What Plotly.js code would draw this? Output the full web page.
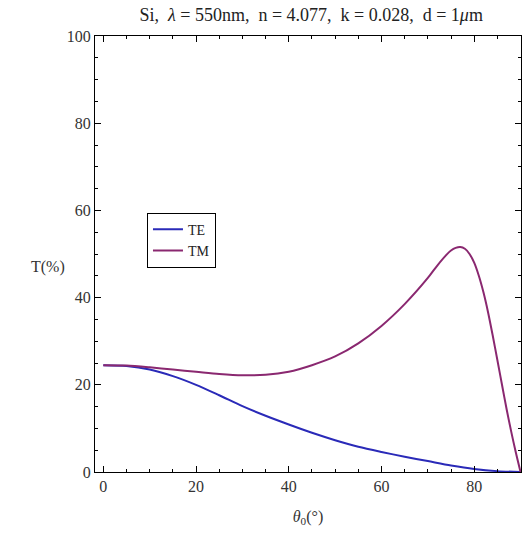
<!DOCTYPE html>
<html>
<head>
<meta charset="utf-8">
<script src="https://cdn.plot.ly/plotly-3.0.1.min.js"></script>
<style>html,body{margin:0;padding:0;background:#fff;}#chart{width:523px;height:537px;}</style>
</head>
<body>
<div id="chart"></div>
<script>
const teTheta = [0,5,10,15,20,25,30,35,40,45,50,55,60,65,70,75,80,85,90];
const teValues = [24.5,24.3,23.5,22.0,20.0,17.6,15.1,12.9,10.9,9.0,7.3,5.8,4.6,3.5,2.5,1.5,0.7,0.2,0];
const tmTheta = [0,5,10,15,20,25,30,35,40,45,50,55,60,65,70,72,74,75,76,77,78,79,80,81,82,83,84,85,86,87,88,89,90];
const tmValues = [24.5,24.4,24.0,23.5,23.0,22.5,22.2,22.3,23.0,24.5,26.5,29.5,33.5,38.5,44.5,47.3,49.8,50.8,51.4,51.6,51.2,50.0,48.0,45.0,41.2,36.6,31.3,25.7,20.0,14.4,9.2,4.4,0];
const seriesNames = ["TE","TM"];
const xTicks = [0,20,40,60,80];
const yTicks = [0,20,40,60,80,100];

const serif = "Liberation Serif, Times New Roman, serif";
const traces = [
  {x: teTheta, y: teValues, name: seriesNames[0], mode: "lines",
   line: {color: "#2a2ab8", width: 2, shape: "spline", smoothing: 0.8}},
  {x: tmTheta, y: tmValues, name: seriesNames[1], mode: "lines",
   line: {color: "#8a2870", width: 2, shape: "spline", smoothing: 0.8}}
];
const axisCommon = {
  showline: true, linecolor: "#000", linewidth: 1, mirror: "ticks",
  ticks: "inside", ticklen: 6, tickcolor: "#000", tickwidth: 1,
  showgrid: false, zeroline: false,
  tickfont: {family: serif, size: 16, color: "#333"},
  minor: {dtick: 5, ticks: "inside", ticklen: 3, tickcolor: "#000", showgrid: false}
};
const sp = "\u00a0\u00a0";
const layout = {
  width: 523, height: 537,
  margin: {l: 95, r: 2, t: 36, b: 65},
  paper_bgcolor: "#fff", plot_bgcolor: "#fff",
  font: {family: serif, color: "#222"},
  title: {text: "Si," + sp + "<i>λ</i> = 550nm," + sp + "n = 4.077," + sp + "k = 0.028," + sp + "d = 1<i>μ</i>m",
          x: 0.595, xanchor: "center", y: 0.973, yanchor: "middle",
          font: {family: serif, size: 18, color: "#222"}},
  xaxis: Object.assign({}, axisCommon, {range: [-1.8, 90.1], tickvals: xTicks, ticktext: xTicks.map(String),
    title: {text: "<i>θ</i><sub>0</sub>(°)", font: {family: serif, size: 16, color: "#333"}, standoff: 16}}),
  yaxis: Object.assign({}, axisCommon, {range: [0, 100], tickvals: yTicks, ticktext: yTicks.map(String)}),
  showlegend: true,
  legend: {x: 0.122, y: 0.595, xanchor: "left", yanchor: "top",
           bordercolor: "#000", borderwidth: 1, bgcolor: "#fff",
           font: {family: serif, size: 14, color: "#222"}, itemwidth: 30, tracegroupgap: 4},
  annotations: [{text: "T(%)", xref: "paper", yref: "paper", x: -0.155, y: 0.47,
                 xanchor: "left", yanchor: "middle", showarrow: false,
                 font: {family: serif, size: 16, color: "#333"}}]
};
Plotly.newPlot("chart", traces, layout, {displayModeBar: false, staticPlot: true});
</script>
</body>
</html>
